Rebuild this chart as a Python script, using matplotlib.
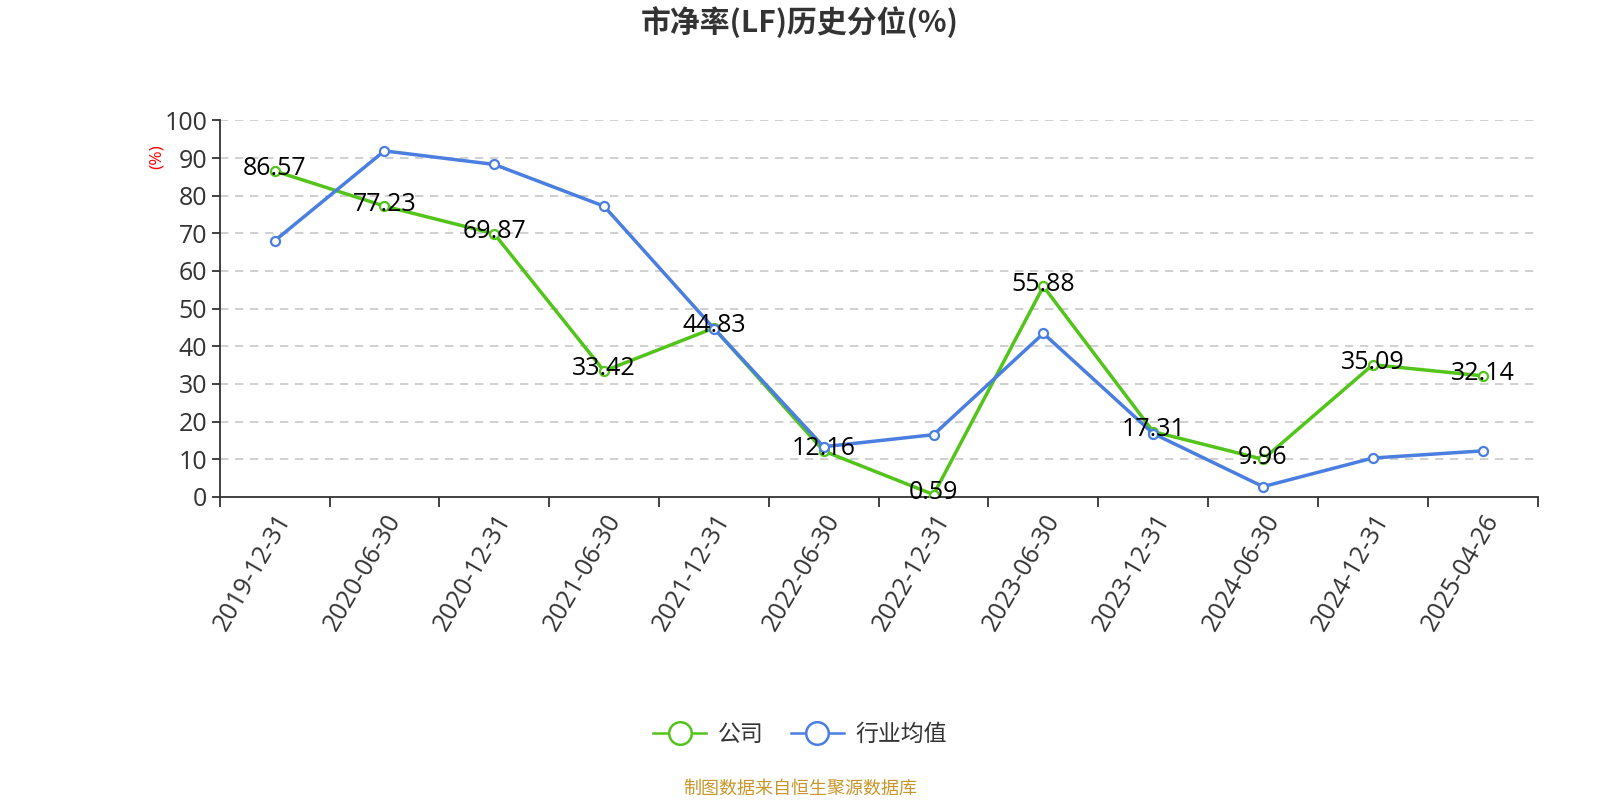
import matplotlib
matplotlib.use("Agg")
import matplotlib.pyplot as plt
from matplotlib.ticker import MultipleLocator, FixedLocator

plt.rcParams['font.family'] = ['Open Sans', 'Noto Sans CJK SC', 'DejaVu Sans']

dates = ["2019-12-31", "2020-06-30", "2020-12-31", "2021-06-30", "2021-12-31",
         "2022-06-30", "2022-12-31", "2023-06-30", "2023-12-31", "2024-06-30",
         "2024-12-31", "2025-04-26"]
company = [86.57, 77.23, 69.87, 33.42, 44.83, 12.16, 0.59, 55.88, 17.31, 9.96, 35.09, 32.14]
industry = [68.0, 91.9, 88.3, 77.2, 44.7, 13.3, 16.5, 43.4, 16.8, 2.7, 10.3, 12.2]

green = "#52c41a"
blue = "#4a7ee0"
axc = "#333333"
cjk = ['Noto Sans CJK SC', 'DejaVu Sans']

fig = plt.figure(figsize=(16, 8), dpi=100)
ax = fig.add_axes([0.1373, 0.379, 0.961 - 0.1373, 0.8495 - 0.379])

x = list(range(len(dates)))
ax.plot(x, company, color=green, lw=2.5, marker='o', ms=6.5, mfc='white',
        mec=green, mew=1.6, zorder=3, label='公司')
ax.plot(x, industry, color=blue, lw=2.5, marker='o', ms=6.5, mfc='white',
        mec=blue, mew=1.6, zorder=3, label='行业均值')

for xi, v in zip(x, company):
    ax.annotate(f"{v:.2f}", (xi, v), xytext=(0, 1.5), textcoords='offset points',
                ha='center', va='center', fontsize=18, color='black', zorder=4)

ax.set_xlim(-0.5, len(dates) - 0.5)
ax.set_ylim(0, 100)
ax.yaxis.set_major_locator(MultipleLocator(10))
ax.set_xticks(x)
ax.set_xticklabels(dates, rotation=60, ha='right', va='top', rotation_mode='anchor',
                   fontsize=18, color=axc)
ax.xaxis.set_minor_locator(FixedLocator([i - 0.5 for i in range(len(dates) + 1)]))
ax.tick_params(axis='x', which='major', length=0, pad=9)
ax.tick_params(axis='x', which='minor', length=7, width=1.3, color=axc)
ax.tick_params(axis='y', which='major', length=6, width=1.3, color=axc,
               labelsize=18, labelcolor=axc, pad=3)

for s in ['top', 'right']:
    ax.spines[s].set_visible(False)
for s in ['left', 'bottom']:
    ax.spines[s].set_color(axc)
    ax.spines[s].set_linewidth(1.3)

for yv in range(10, 101, 10):
    ax.axhline(yv, color='#c8c8c8', lw=1.2, ls=(0, (5, 4)), zorder=1)

ax.text(-0.048, 0.905, "(%)", transform=ax.transAxes, rotation=90, color='red',
        fontsize=12.5, ha='center', va='center')

fig.text(0.5, 0.972, "市净率(LF)历史分位(%)", ha='center', va='center',
         fontsize=21.5, fontweight='bold', color=axc, family=cjk)

leg = fig.legend(loc='center', bbox_to_anchor=(0.5, 0.082), ncol=2, frameon=False,
                 prop={'family': cjk, 'size': 16.5}, handlelength=2.3,
                 columnspacing=1.2, handletextpad=0.5, markerscale=2.5)
for t in leg.get_texts():
    t.set_color(axc)
for h in leg.legend_handles:
    h.set_linewidth(1.8)
    h.set_markeredgewidth(1.8)

fig.text(0.5, 0.014, "制图数据来自恒生聚源数据库", ha='center', va='center',
         fontsize=13, color='#c8962a', family=cjk)

fig.savefig("out.png", dpi=100)
